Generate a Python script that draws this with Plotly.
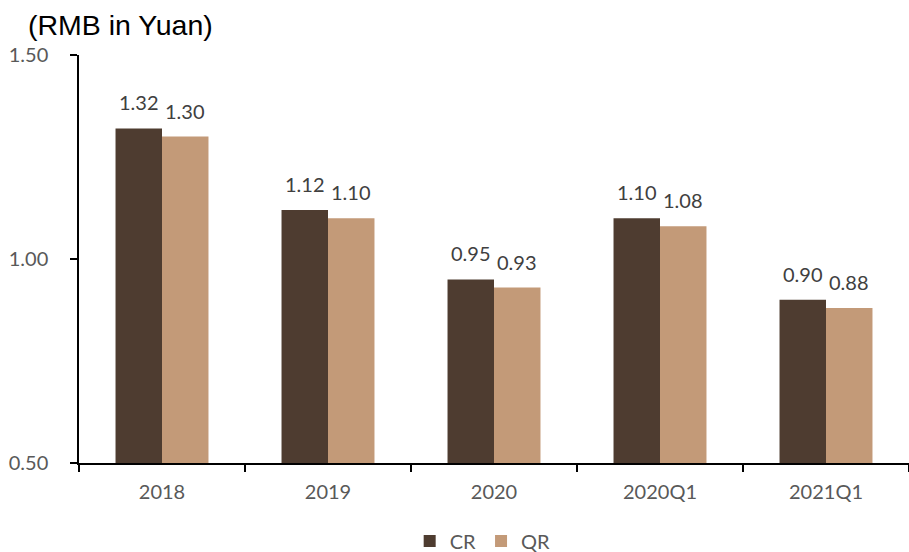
import plotly.graph_objects as go

categories = ["2018", "2019", "2020", "2020Q1", "2021Q1"]
cr_values = [1.32, 1.12, 0.95, 1.10, 0.90]
qr_values = [1.30, 1.10, 0.93, 1.08, 0.88]
y_ticks = [0.50, 1.00, 1.50]

CR_COLOR = "#4E3C30"
QR_COLOR = "#C39A78"
LABEL_FONT = "Lato, 'Open Sans', sans-serif"

fig = go.Figure()
fig.add_trace(go.Bar(name="CR", x=categories, y=cr_values, marker_color=CR_COLOR,
                     marker_line_width=0))
fig.add_trace(go.Bar(name="QR", x=categories, y=qr_values, marker_color=QR_COLOR,
                     marker_line_width=0))

# value labels above each bar; annotations on a category axis take the
# category index, then shift to the centre of the bar within its group
bar_half = 23.3
annotations = []
for i, v in enumerate(cr_values):
    annotations.append(dict(x=i, y=v, text=f"{v:.2f}", showarrow=False,
                            xshift=-bar_half, yshift=26, yanchor="middle",
                            font=dict(family=LABEL_FONT, size=20, color="#404040")))
for i, v in enumerate(qr_values):
    annotations.append(dict(x=i, y=v, text=f"{v:.2f}", showarrow=False,
                            xshift=bar_half, yshift=26, yanchor="middle",
                            font=dict(family=LABEL_FONT, size=20, color="#404040")))

# unit caption in the top-left corner
annotations.append(dict(xref="paper", yref="paper", x=-0.064, y=1.0, yshift=30,
                        xanchor="left", yanchor="middle", text="(RMB in Yuan)",
                        showarrow=False,
                        font=dict(family="Arial, 'Liberation Sans', sans-serif",
                                  size=28.5, color="#000000")))

fig.update_layout(
    width=909, height=552,
    margin=dict(l=79, r=0, t=55, b=89),
    barmode="group", bargap=0.44, bargroupgap=0,
    plot_bgcolor="white", paper_bgcolor="white",
    showlegend=True,
    legend=dict(orientation="h", xref="container", yref="container",
                x=0.531, xanchor="center", y=0.02, yanchor="middle",
                font=dict(family=LABEL_FONT, size=20, color="#595959"),
                itemwidth=30, traceorder="normal"),
    annotations=annotations,
    xaxis=dict(type="category", categoryorder="array", categoryarray=categories,
               range=[-0.5, len(categories) - 0.5],
               showline=True, linecolor="black", linewidth=1.5,
               ticks="outside", tickson="boundaries", ticklen=7, tickcolor="black",
               tickwidth=1.5, showgrid=False, tickangle=0, ticklabelstandoff=10,
               tickfont=dict(family=LABEL_FONT, size=20, color="#595959")),
    yaxis=dict(range=[0.5, 1.5], tickvals=y_ticks,
               ticktext=[f"{t:.2f}" for t in y_ticks],
               showline=True, linecolor="black", linewidth=1.5,
               ticks="outside", ticklen=7, tickcolor="black", tickwidth=1.5,
               ticklabelstandoff=18, showgrid=False, zeroline=False,
               tickfont=dict(family=LABEL_FONT, size=20, color="#595959")),
)

fig.write_html("out.html")
